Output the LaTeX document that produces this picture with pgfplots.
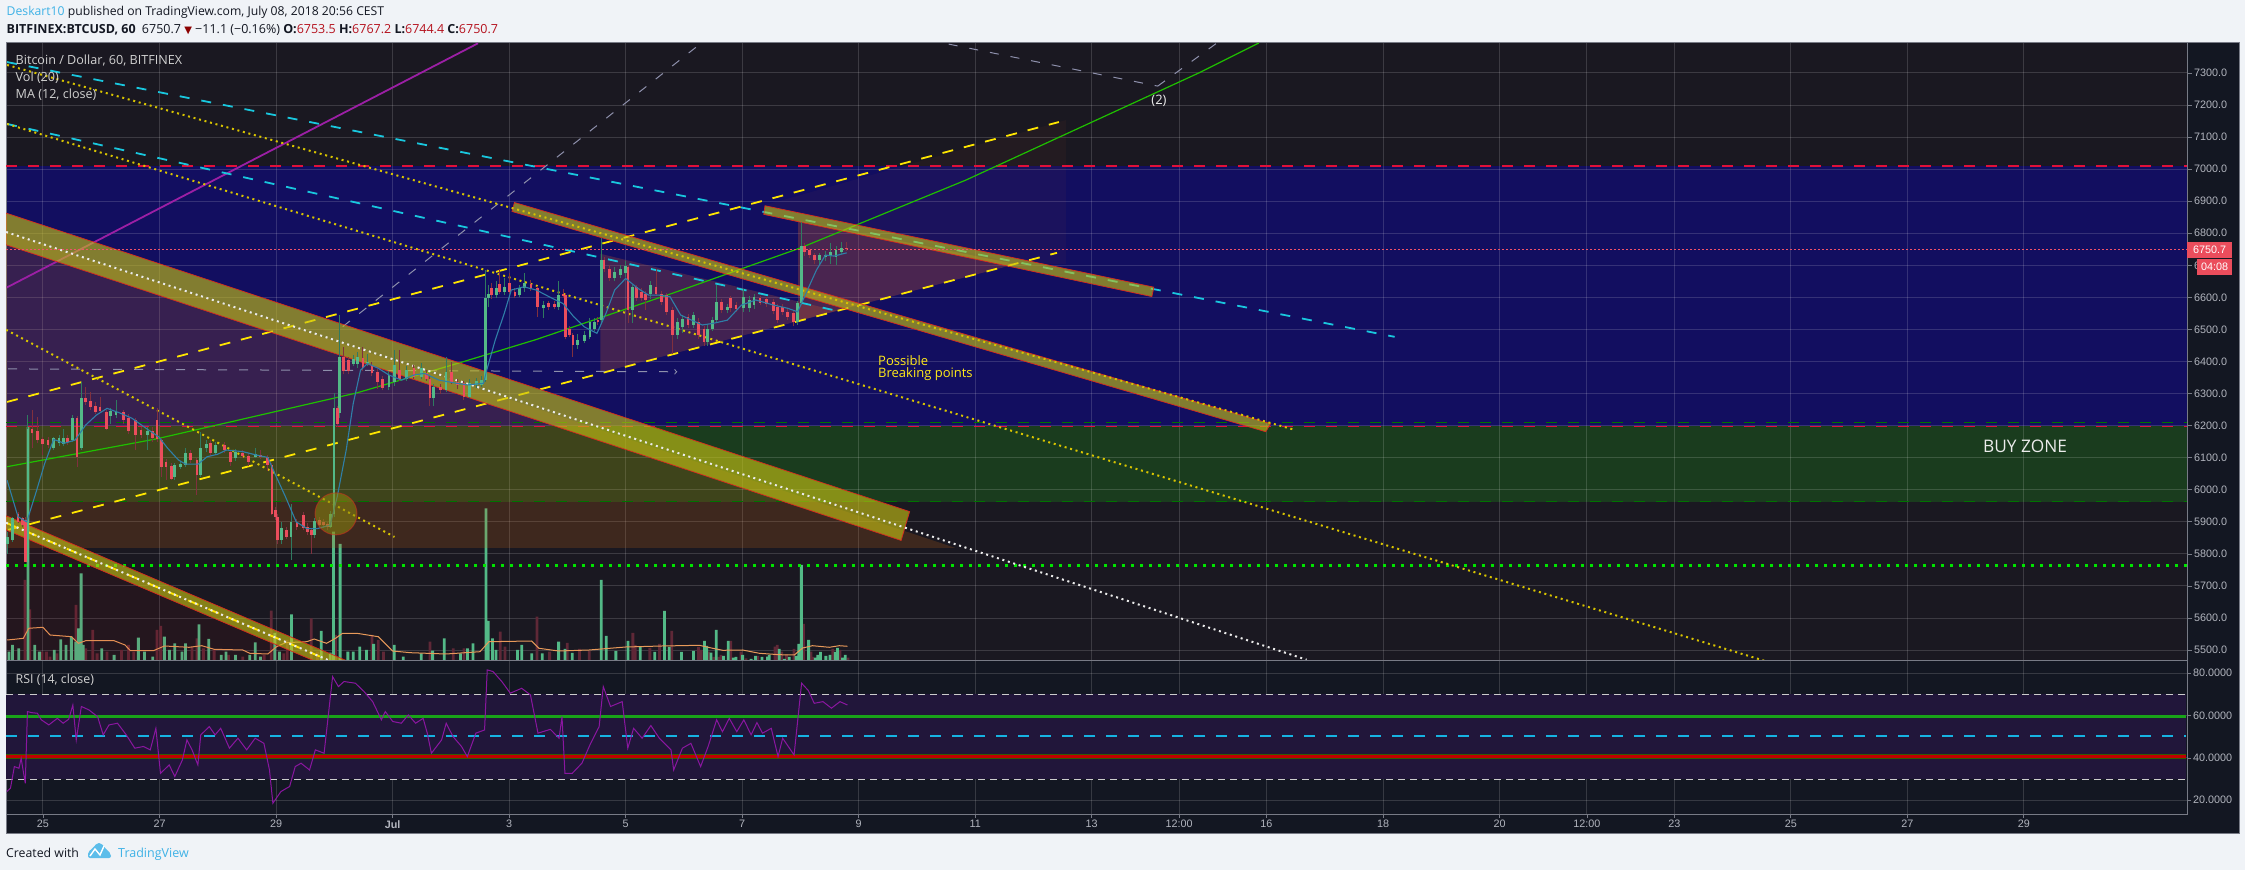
\documentclass[border=0pt]{standalone}
\usepackage{fontspec}
\setmainfont{Open Sans}
\newfontfamily\lib{Liberation Sans}
\newfontfamily\dv{DejaVu Sans}
\usepackage{pgfplots}
\usepackage{pgfplotstable}
\pgfplotsset{compat=1.18}
\definecolor{pagebg}{HTML}{F0F3F7}
\definecolor{panebg}{HTML}{131722}
\definecolor{mainbg}{HTML}{1A1821}
\definecolor{frame}{HTML}{787B86}
\definecolor{ticktxt}{HTML}{B2B5BE}
\definecolor{zblue}{HTML}{120E60}
\definecolor{zgreen}{HTML}{1A3C1E}
\definecolor{over}{HTML}{CE6812}
\definecolor{cg}{HTML}{53B987}
\definecolor{cr}{HTML}{EB4D5C}
\definecolor{wg}{HTML}{2F7A60}
\definecolor{wr}{HTML}{80303E}
\definecolor{volr}{HTML}{5F2837}
\definecolor{band}{HTML}{C8C214}
\definecolor{bandedge}{HTML}{D8291F}
\definecolor{cyanl}{HTML}{19C7DE}
\definecolor{ydash}{HTML}{FFE600}
\definecolor{ydot}{HTML}{D8C400}
\definecolor{purp}{HTML}{9C1FA5}
\definecolor{glin}{HTML}{1FC000}
\definecolor{greyd}{HTML}{8E90AC}
\definecolor{redd}{HTML}{E0103A}
\definecolor{lastp}{HTML}{F0536A}
\definecolor{mal}{HTML}{2F7FA8}
\definecolor{vma}{HTML}{E89A5A}
\definecolor{rsil}{HTML}{8A16A0}
\definecolor{rsib}{HTML}{21163A}
\definecolor{blueh}{HTML}{3FB2E6}
\definecolor{redv}{HTML}{B5121E}

\pgfplotstableread{
x o c h l
-14.5 5832 5853 5869 5801
-12.4 5843 5911 5916 5838
-6.2 5775 6191 6233 5775
4.4 6129 6160 6166 6124
6.6 6145 6160 6170 6137
8.5 6143 6163 6191 6135
12 6155 6223 6233 6150
15.8 6129 6285 6337 6124
27.9 6230 6247 6255 6205
30.1 6233 6243 6280 6225
42.9 6171 6184 6195 6124
54.3 6041 6077 6085 6030
56.5 6072 6080 6090 6065
58.7 6077 6115 6129 6070
64.9 6046 6129 6181 6040
67.3 6129 6143 6155 6118
71.2 6115 6139 6148 6108
79.3 6098 6119 6128 6090
87.4 6103 6113 6129 6098
98.4 5843 5882 5900 5830
102.2 5853 5900 5957 5781
112 5859 5903 5912 5850
118.4 5885 5924 5935 5880
119.9 5924 6254 6301 5915
122.2 6238 6415 6545 6225
127.8 6392 6407 6420 6385
129.7 6392 6413 6430 6380
133.7 6394 6399 6425 6385
142.5 6321 6358 6370 6310
144.7 6337 6389 6435 6325
149.9 6347 6373 6385 6340
155.8 6353 6379 6395 6345
161 6285 6321 6330 6260
166 6311 6368 6415 6305
175.6 6290 6332 6345 6285
178.5 6327 6340 6350 6318
180.8 6327 6342 6355 6320
182.3 6342 6597 6685 6335
183.4 6597 6612 6640 6570
186.7 6607 6628 6650 6598
190 6618 6631 6660 6608
196.3 6607 6628 6640 6600
198.4 6628 6644 6675 6618
206.1 6566 6576 6590 6535
212.2 6571 6607 6650 6560
220.1 6451 6467 6485 6440
223 6465 6482 6495 6458
225.3 6477 6524 6535 6470
227.2 6503 6524 6535 6495
230 6529 6718 6784 6520
235.5 6662 6680 6695 6650
237.8 6670 6690 6700 6660
240 6675 6698 6715 6665
242.9 6560 6633 6640 6520
250.2 6612 6638 6650 6595
261.3 6482 6524 6535 6470
263.5 6508 6534 6545 6490
267.9 6514 6545 6555 6505
273.8 6462 6503 6515 6450
275.7 6503 6529 6540 6495
277.4 6529 6586 6640 6520
281.9 6560 6569 6580 6550
288.5 6566 6602 6625 6555
291 6566 6592 6605 6555
292.9 6576 6600 6612 6565
310.9 6524 6581 6590 6515
312.4 6581 6760 6836 6575
320 6718 6731 6740 6700
322.3 6727 6731 6745 6715
324.5 6729 6741 6770 6705
326.7 6727 6748 6760 6700
328.9 6741 6753 6772 6735
}\upT

\pgfplotstableread{
x o c h l
-10.3 5926 5900 5931 5895
-8.6 5911 5890 5916 5885
-7.1 5905 5775 5915 5775
-4.5 6191 6176 6249 6129
-2.3 6184 6155 6228 6145
-0.1 6157 6142 6165 6108
2.1 6155 6139 6165 6130
10.2 6160 6150 6170 6140
14 6223 6103 6230 6072
17.6 6285 6273 6321 6265
19.5 6277 6259 6306 6250
21.5 6262 6243 6275 6235
23.5 6259 6247 6290 6240
26 6243 6191 6250 6185
33 6243 6217 6250 6205
35.2 6223 6184 6235 6175
38.2 6217 6171 6225 6124
40.4 6186 6171 6195 6160
45.2 6184 6160 6195 6150
47 6217 6157 6254 6150
48.7 6155 6072 6160 6040
50.7 6087 6072 6095 6030
52.9 6074 6035 6085 6030
60.9 6115 6093 6125 6085
63.4 6093 6046 6100 5983
69 6145 6115 6155 6105
74.9 6139 6124 6150 6115
77.1 6119 6087 6125 6075
82.3 6115 6106 6125 6098
84.5 6106 6087 6115 6075
89.6 6108 6101 6125 6095
92.6 6103 6077 6110 6060
94.3 6077 5926 6085 5920
95.8 5937 5916 5945 5905
96.7 5916 5843 5925 5830
100.2 5874 5853 5885 5845
104.6 5900 5885 5910 5875
107.3 5921 5882 5930 5875
109 5885 5869 5895 5860
110.5 5874 5859 5880 5801
113.9 5905 5890 5915 5880
115.6 5900 5890 5910 5882
117.1 5893 5885 5900 5875
121.2 6254 6205 6262 6195
123.7 6415 6370 6446 6360
125.9 6405 6370 6415 6360
131.8 6410 6381 6446 6372
135.5 6389 6363 6400 6355
137.8 6368 6337 6378 6315
139.9 6347 6318 6355 6310
147 6373 6347 6435 6340
152.8 6379 6353 6390 6345
158 6363 6347 6375 6340
159.4 6347 6285 6355 6260
163.8 6321 6311 6330 6300
168.3 6368 6337 6400 6330
170.8 6337 6327 6345 6315
173.4 6332 6290 6340 6280
184.8 6628 6607 6644 6595
188.2 6642 6618 6690 6610
192.2 6644 6618 6675 6610
194.4 6618 6605 6630 6598
201 6642 6628 6655 6620
203.6 6628 6571 6635 6540
208.4 6581 6569 6590 6560
210.6 6579 6571 6590 6565
214.2 6612 6605 6625 6598
215.4 6607 6477 6615 6470
216.9 6503 6482 6510 6475
218.3 6482 6451 6490 6415
228.6 6529 6524 6540 6515
231.1 6718 6690 6725 6680
233.3 6690 6659 6700 6650
241 6694 6560 6700 6520
244.4 6633 6597 6640 6590
246.6 6618 6597 6630 6590
248.3 6612 6592 6620 6560
252.5 6633 6612 6690 6605
254.7 6612 6586 6620 6575
256.9 6607 6555 6615 6545
259.4 6560 6482 6570 6425
265.7 6540 6514 6548 6505
270.1 6524 6482 6535 6470
272.3 6503 6462 6510 6450
279.6 6586 6560 6595 6550
283.3 6597 6566 6605 6555
285.5 6576 6564 6585 6555
295.4 6597 6584 6605 6575
298 6594 6579 6602 6570
301 6586 6558 6595 6548
302.7 6571 6529 6580 6520
304.6 6571 6555 6580 6545
306.8 6555 6540 6565 6530
309.3 6550 6522 6560 6510
313.6 6760 6742 6770 6730
315.7 6748 6732 6755 6722
317.9 6732 6716 6740 6705
331.1 6753 6750.7 6772 6744
}\downT

\pgfplotstableread{
x v
-14 9.3
-12.6 16
-10 12.7
-6.2 234
-3.4 16
-1.5 9.3
4.6 11
7.3 21.7
9.5 16
11.7 24.3
13.5 19.3
14.6 32.7
15.7 87.7
16.6 16
24.2 12.7
29.3 6
39.3 23.3
41.8 9.3
45.2 4.3
50 24.3
52.1 11
54.3 17.7
57.3 9.3
58.7 17.7
64.3 36.7
68.3 22
73.4 6
75.4 9.3
79.3 6
85.2 6
87.4 18.7
89.6 4.3
95.5 28
97.4 9.3
102.4 46.7
114.6 30
118.3 8.3
119.7 129.3
122.4 117
125.6 9.3
127.8 9.3
130.5 14.3
133.3 11
136.2 17
144.7 16
148.4 4.3
155.8 7.7
160.5 10.3
165.3 22.7
172 7.7
174.9 12.7
177.1 17.7
182.5 152.7
183.4 40
185.2 22.7
186.6 11
195.5 11
197.2 16
201.3 7.7
205.7 7.7
212.4 19.3
215 12
218 8
230 81
232 25
236 10
241 20
246 14
252 9
256 50
258 14
263 9
268 10
272.5 20
273.4 15
275.2 8.3
277.3 31
280.3 5
282.3 20
284.4 3.3
285.5 4
288.2 6
291.7 2
293.5 5
296.2 4
298.5 4.3
299.2 6
303.3 12
305.4 2
307.4 4
310.2 5
311.3 17
312.4 96
315.4 21
318.1 3.3
319.2 6
320.3 9
322.5 5
324.2 6
326.4 9
327.3 13
329.4 3.3
330.5 6
}\volG

\pgfplotstableread{
x v
-7.4 81
-5.5 51.7
-0.4 9.3
1.4 9.3
2.9 4.3
5.8 7.7
13.6 56
17.6 12.7
20.5 31
22.3 7.7
26.4 9.3
32.3 11
35.2 16
37.4 9.3
47 31
48.5 35
61.4 14.3
63.4 22.7
66.1 12.7
70.5 11
76.4 6
82.3 4.3
91.1 6
94 50.3
99.2 7.7
100.6 21
110.5 42.7
113.1 9.3
120.5 26
135.5 26
138.1 21
140.3 9.3
159.4 19.3
169 12.7
173.4 12.7
188.4 29.3
190.3 14.3
203.5 44.3
208.7 9.3
216 18
221 12
225 10
243 28
244 16
250 13
254 17
259 30
270 14
271.1 11
274.2 9.3
276.3 4
278.4 4
279.3 6
283.3 20
287.5 9.3
289.6 2.7
294.4 5
301.5 14.3
302.5 16
304.3 9.3
306.3 6.7
309.4 12
313.3 37
316.4 9.3
317 4
325.3 12
328.3 11
331.6 3.3
}\volR

\pgfplotsset{
  pane/.style={scale only axis, width=2181pt, xmin=-15.24, xmax=883.2},
  mainp/.style={pane, height=618pt, at={(6pt,209pt)}, anchor=south west, ymin=5466, ymax=7393.5},
  xt/.style={xtick={0,48,96,144,192,240,288,336,384,432,468,504,552,600,636,672,720,768,816}},
  bandp/.style={fill=band, fill opacity=.62, draw=bandedge, line width=.7pt},
  cyanp/.style={cyanl, line width=1.8pt, dash pattern=on 10pt off 12pt},
  ydashp/.style={ydash, line width=1.8pt, dash pattern=on 11pt off 11pt},
  ydotp/.style={ydot, line width=2pt, dash pattern=on 2pt off 3.7pt},
  wdotp/.style={white!92!black, line width=2pt, dash pattern=on 2pt off 3.7pt},
  greyp/.style={greyd, line width=1pt, dash pattern=on 9pt off 12pt},
}

\begin{document}
\begin{tikzpicture}[x=1pt,y=1pt]
\path[use as bounding box, fill=pagebg] (0,0) rectangle (2245,870);
\fill[panebg] (6,37) rectangle (2239,827);
\draw[frame, line width=1pt] (6,37) rectangle (2239,827);

% grid and zones
\begin{axis}[mainp, xt, axis on top, axis background/.style={fill=mainbg},
  axis line style={frame, line width=1pt},
  xticklabels={}, xtick style={draw=none}, ytick={5500,5600,...,7300},
  ytick pos=right, yticklabel pos=right, tick align=outside,
  major tick length=5pt, ytick style={frame, line width=.8pt},
  grid=major, major grid style={white, opacity=.15, line width=1pt},
  /pgf/number format/.cd, fixed, fixed zerofill, precision=1, 1000 sep={}, assume math mode=true,
  /tikz/.cd, yticklabel style={font=\lib\fontsize{10.8}{12}\selectfont, text=ticktxt, inner sep=0pt, xshift=2pt}]
\addplot[fill=zblue, draw=none] coordinates {(-15.24,6198)(883.2,6198)(883.2,7010)(-15.24,7010)} -- cycle;
\addplot[fill=zgreen, draw=none] coordinates {(-15.24,5963)(883.2,5963)(883.2,6198)(-15.24,6198)} -- cycle;
\end{axis}

% volume
\begin{axis}[mainp, hide axis, ymin=0, ymax=618]
\addplot[ybar, bar width=2.8pt, bar shift=0pt, fill=volr, draw=none] table[x=x,y=v] {\volR};
\addplot[ybar, bar width=2.8pt, bar shift=0pt, fill=cg, draw=none] table[x=x,y=v] {\volG};
\addplot[vma, line width=1pt] coordinates {(-14.8,21)(-11.8,21.7)(-8.1,22.7)(-5.9,32.7)(0,33.7)(2.9,26)(11.7,24.3)(14.6,17.7)(17.6,20.3)(29.3,20.3)(33.8,16)(36,10.3)(45.5,10.3)(50,15)(60.2,13.7)(65.4,15.3)(70.5,11.7)(82.3,11)(85.2,7.7)(92.6,7)(96.2,14.3)(99.9,18.3)(108.7,19.3)(111.7,22)(116.8,17.7)(120.5,22.7)(123.4,27.7)(129.3,27.7)(138.1,24.3)(144,10)(151.4,8.3)(166,7)(180,9.3)(183.7,19.3)(201.3,20)(204.3,12.7)(212.4,10)(225,11)(240,14)(255,15)(270.4,15.7)(275.9,12.7)(280,10.7)(288.2,11)(295.1,7.7)(303.3,6.3)(309.5,6)(312.9,13)(317,15.3)(323.9,13.7)(328,15.3)(331.4,14.7)};
\end{axis}

% drawings and candles
\begin{axis}[mainp, hide axis]
% translucent shapes
\addplot[fill=over, fill opacity=.2, draw=none] coordinates {(-15.24,6804)(375.7,5819)(-15.24,5819)} -- cycle;
\addplot[fill=red!70!black, fill opacity=.07, draw=none] coordinates {(-15.24,5881)(124.3,5467)(-15.24,5467)} -- cycle;
\addplot[fill=over!90!magenta, fill opacity=.25, draw=none] coordinates {(229.6,6736)(327.1,6558)(229.6,6365)} -- cycle;
\addplot[fill=over!90!magenta, fill opacity=.29, draw=none] coordinates {(311.1,6839)(400.8,6704)(311.1,6527)} -- cycle;
\addplot[fill=over!90!magenta, fill opacity=.05, draw=none] coordinates {(297.5,6888)(421.4,7153)(421.4,6704)(400.8,6707)} -- cycle;
% levels
\addplot[redd, line width=1.2pt, dash pattern=on 11pt off 11pt] coordinates {(-15.24,7010)(883.2,7010)};
\addplot[green!45!black, line width=1pt, dash pattern=on 11pt off 11pt] coordinates {(-15.24,6209)(883.2,6209)};
\addplot[redd, line width=1.2pt, dash pattern=on 11pt off 11pt] coordinates {(-15.24,6198)(883.2,6198)};
\addplot[green!45!black, line width=1pt, dash pattern=on 11pt off 11pt] coordinates {(-15.24,5963)(883.2,5963)};
\addplot[green!90!black, line width=3pt, dash pattern=on 3pt off 6pt] coordinates {(-15.24,5763)(883.2,5763)};
% trend lines
\addplot[purp, line width=1.8pt] coordinates {(-14.9,6631)(179.2,7392.6)};
\addplot[cyanp] coordinates {(-14.8,7334)(556.8,6477)};
\addplot[cyanp] coordinates {(-14.8,7141)(327.1,6558)};
\addplot[ydashp] coordinates {(-14.8,6274)(418.5,7147)};
\addplot[ydashp] coordinates {(-14.4,5875)(417.7,6739)};
\addplot[glin, line width=1.2pt] coordinates {(-14.8,6072)(46.9,6159)(129.2,6302)(171.6,6396)(202.9,6468)(259.7,6614)(311.9,6754)(380.2,6966)(476.1,7300)(500.8,7393.5)};
\addplot[greyp] coordinates {(123.5,6509)(271.2,7393.5)};
\addplot[greyp] coordinates {(373.1,7390)(459.2,7259)};
\addplot[greyp] coordinates {(459.2,7259)(483.5,7393)};
\addplot[greyp, ->] coordinates {(-14.4,6377)(261.3,6368)};
% thick bands
\addplot[bandp] coordinates {(-15.2,6863)(357,5932)(353.5,5842)(-15.2,6764)} -- cycle;
\addplot[bandp] coordinates {(194.2,6896)(505.7,6206)(503.7,6181)(193.2,6868)} -- cycle;
\addplot[bandp] coordinates {(297.4,6886)(457.6,6632)(456.8,6602.5)(296.9,6859)} -- cycle;
\addplot[bandp] coordinates {(-15.2,5919)(126.3,5463)(112.8,5463)(-15.2,5875)} -- cycle;
\addplot[ydotp] coordinates {(-14.8,7325)(515.6,6187)};
\addplot[ydotp] coordinates {(-14.8,7141)(709,5467)};
\addplot[ydotp] coordinates {(-15.2,6499)(144.8,5853)};
\addplot[wdotp] coordinates {(-15.2,6804)(520.5,5470)};
\addplot[ydashp] coordinates {(-15.2,5897)(118.1,5467)};
\addplot[wdotp] coordinates {(-15.2,5897)(118.1,5467)};
% circle
\addplot[only marks, mark=*, mark size=21pt, mark options={fill=band!70!black, fill opacity=.55, draw=bandedge, draw opacity=.5, line width=1pt}] coordinates {(120.7,5925)};
% last price
\addplot[lastp, line width=.9pt, dash pattern=on 2pt off 2pt] coordinates {(-15.24,6750.7)(883.2,6750.7)};
% wicks
\addplot[draw=wg, line width=.9pt, quiver={u=0, v=\thisrow{h}-\thisrow{l}}] table[x=x, y=l] {\upT};
\addplot[draw=wr, line width=.9pt, quiver={u=0, v=\thisrow{h}-\thisrow{l}}] table[x=x, y=l] {\downT};
% bodies
\addplot[draw=cg, line width=2.8pt, quiver={u=0, v=\thisrow{c}-\thisrow{o}}] table[x=x, y=o] {\upT};
\addplot[draw=cr, line width=2.8pt, quiver={u=0, v=\thisrow{o}-\thisrow{c}}] table[x=x, y=c] {\downT};
% moving average
\addplot[mal, line width=1.1pt] coordinates {(-14.8,6030)(-10.3,5916)(-6.7,5900)(-3,5989)(0.7,6082)(4.4,6157)(8.8,6145)(13.2,6155)(17.6,6202)(22,6233)(26.4,6254)(31.5,6240)(36.7,6223)(42.6,6191)(47.7,6165)(51.4,6129)(55.8,6093)(58.7,6080)(63.9,6080)(67.6,6103)(72,6111)(75.6,6124)(82.3,6119)(88.1,6108)(92.6,6101)(95.5,6051)(99.9,5978)(104.3,5900)(108.7,5879)(113.1,5879)(118.3,5890)(121.2,5978)(124.9,6124)(127.8,6269)(130.8,6373)(133.7,6394)(138.1,6379)(142.5,6358)(147.7,6342)(152.8,6358)(157.2,6363)(163.1,6342)(169,6334)(174.9,6327)(181.5,6332)(182.6,6368)(186.3,6467)(190,6550)(192.9,6623)(198.1,6633)(203.2,6623)(209.8,6597)(214.2,6581)(218.6,6540)(223,6508)(228.2,6488)(231.9,6550)(235.5,6623)(240,6659)(245.1,6628)(249.5,6607)(253.9,6607)(258.3,6602)(262.7,6545)(267.2,6529)(271.6,6514)(276,6519)(281.9,6529)(287.7,6576)(293.6,6592)(301,6576)(306.8,6566)(310.9,6555)(314.9,6623)(318.6,6685)(322.3,6732)(325.9,6729)(331.1,6739)};
\end{axis}

% RSI
\begin{axis}[pane, xt, height=153pt, at={(6pt,56pt)}, anchor=south west, ymin=13.5, ymax=85.8,
  axis line style={frame, line width=1pt},
  xticklabels={25,27,29,\textbf{Jul},3,5,7,9,11,13,12:00,16,18,20,12:00,23,25,27,29},
  ytick={20,40,60,80}, ytick pos=right, yticklabel pos=right, xtick pos=bottom, tick align=outside,
  major tick length=4pt, tick style={frame, line width=.8pt},
  grid=major, major grid style={white, opacity=.15, line width=1pt},
  /pgf/number format/.cd, fixed, fixed zerofill, precision=4, 1000 sep={}, assume math mode=true,
  /tikz/.cd, yticklabel style={font=\lib\fontsize{10.8}{12}\selectfont, text=ticktxt, inner sep=0pt, xshift=2pt},
  xticklabel style={font=\lib\fontsize{10.8}{12}\selectfont, text=ticktxt, inner sep=0pt, yshift=-2pt}]
\addplot[fill=rsib, draw=none] coordinates {(-15.24,30)(882.8,30)(882.8,70)(-15.24,70)} -- cycle;
\addplot[white!80!black, line width=.9pt, dash pattern=on 7pt off 5pt] coordinates {(-15.24,70)(882.8,70)};
\addplot[white!80!black, line width=.9pt, dash pattern=on 7pt off 5pt] coordinates {(-15.24,30)(882.8,30)};
\addplot[green!60!black!90!white, line width=3.6pt] coordinates {(-15.24,59.5)(882.8,59.5)};
\addplot[cyanl!90!blue, line width=1.8pt, dash pattern=on 11pt off 11pt] coordinates {(-15.24,50.4)(882.8,50.4)};
\addplot[green!45!black!80!red, line width=5.5pt] coordinates {(-15.24,40.6)(882.8,40.6)};
\addplot[red!75!black, line width=3.5pt] coordinates {(-15.24,40.6)(882.8,40.6)};
\addplot[rsil, line width=1pt] coordinates {(-14.9,24.1)(-13.4,25.7)(-11.8,35.9)(-9.9,35.1)(-9,39.8)(-7.3,28)(-6.4,61.9)(-4.7,61.4)(-2.3,61.1)(-0.7,58)(2.4,55.6)(5.9,58.7)(8.3,56.4)(10.6,58.3)(12.3,65)(13.7,48.5)(15.8,64.3)(18.9,62.7)(22.5,59.5)(24.8,50.9)(27.2,55.6)(30.7,56.4)(34.3,50.9)(37.8,44.6)(41.4,45.4)(44.2,43.8)(46.5,54)(48.4,32.7)(52,36.7)(54.3,31.2)(57.4,39)(59.3,48.5)(61.4,43.8)(63.8,36.7)(65,50.9)(68.5,54.8)(70.9,50.9)(73.2,54)(76.8,44.6)(80.3,49.3)(83.9,43.8)(87.4,49.3)(91,46.9)(93.3,34.3)(94.7,18.6)(98,24.1)(101.6,26.5)(103.9,35.9)(106.3,37.5)(109.8,34.3)(112.2,43.8)(115.8,42.2)(119.3,78.4)(121.7,73.7)(124,76.1)(128.7,75.3)(132.3,71.3)(135.8,66.6)(139.4,58)(141,61.9)(144.1,57.2)(147.6,56.4)(150.5,60.3)(153.5,56.4)(156.6,58.7)(158.3,51.7)(160,42.2)(164.2,48.5)(166.1,56.4)(168.9,50.1)(172.4,45.4)(174.8,40.6)(178.3,51.7)(181.9,53.2)(183,81.6)(185.4,80.8)(189,76.1)(192.5,70.6)(197.2,72.9)(200.8,69.8)(203.9,51.7)(209,53.5)(212.6,49.3)(213.8,59.5)(215,32.7)(218,32.7)(222,37.5)(225.6,46.9)(229.1,54.8)(230.8,73.7)(233.8,64.3)(238.6,66.6)(240.9,44.6)(243.3,54)(246.8,49.3)(250.4,55.3)(253.9,49.3)(258.7,43.8)(259.8,34.3)(263.4,44.6)(266.9,46.9)(270.9,35.9)(274,45.4)(277.5,58)(279.9,52.4)(282.7,58.7)(285.8,52.4)(288.7,58)(291.7,50.9)(294.1,56.7)(296.4,51.7)(300,54)(302.8,40.6)(304.7,49.3)(309.4,41.4)(312.5,75.3)(315.3,71.8)(317.7,65.8)(321.3,66.6)(324.8,63.5)(328.3,66.6)(331.4,65)};
\end{axis}

% header
\node[anchor=base west, inner sep=0pt, text=panebg, font=\fontsize{12.2}{14}\selectfont] at (6.5,854) {\textcolor{blueh}{Deskart10} published on TradingView.com, July 08, 2018 20:56 CEST};
\node[anchor=base west, inner sep=0pt, text=panebg, font=\fontsize{12.5}{14}\selectfont] at (6.5,836) {\textbf{BITFINEX:BTCUSD, 60}\hspace{3pt} 6750.7 \textcolor{red!55!black}{\dv\fontsize{10}{10}\selectfont ▼} −11.1 (−0.16\%) \textbf{O:}\textcolor{redv}{6753.5} \textbf{H:}\textcolor{redv}{6767.2} \textbf{L:}\textcolor{redv}{6744.4} \textbf{C:}\textcolor{redv}{6750.7}};
% pane labels
\node[anchor=base west, inner sep=0pt, text=white!82!black, font=\fontsize{12.6}{14}\selectfont] at (15.5,805) {Bitcoin / Dollar, 60, BITFINEX};
\node[anchor=base west, inner sep=0pt, text=white!82!black, font=\fontsize{12.6}{14}\selectfont] at (15.5,788) {Vol (20)};
\node[anchor=base west, inner sep=0pt, text=white!82!black, font=\fontsize{12.6}{14}\selectfont] at (15.5,771) {MA (12, close)};
\node[anchor=base west, inner sep=0pt, text=white!82!black, font=\fontsize{12.4}{14}\selectfont] at (15.5,186.5) {RSI (14, close)};
% annotations
\node[anchor=base west, inner sep=0pt, text=ydash!90!white, font=\fontsize{13}{15}\selectfont] at (878,504) {Possible};
\node[anchor=base west, inner sep=0pt, text=ydash!90!white, font=\fontsize{13}{15}\selectfont] at (878,492) {Breaking points};
\node[inner sep=0pt, text=white!92!black, font=\fontsize{17.3}{19}\selectfont] at (2025,424) {BUY ZONE};
\node[inner sep=0pt, text=white!92!black, font=\fontsize{13}{15}\selectfont] at (1159,769) {(2)};
% price labels
\fill[cr] (2187,612) rectangle (2232,628);
\node[inner sep=0pt, text=white, font=\lib\fontsize{10.8}{12}\selectfont] at (2209.5,620) {6750.7};
\fill[cr] (2197,595) rectangle (2232,611);
\node[inner sep=0pt, text=white, font=\lib\fontsize{10.8}{12}\selectfont] at (2214.5,603) {04:08};
% footer
\node[anchor=base west, inner sep=0pt, text=panebg, font=\fontsize{12.3}{14}\selectfont] at (6,13) {Created with};
\fill[blueh!85!white, rounded corners=2pt] (88,12) -- (88,18) -- (93,22) -- (97,27) -- (101,27) -- (106,21) -- (111,16) -- (111,12) -- cycle;
\draw[white, line width=1.4pt] (90,14) -- (95,21) -- (100,15) -- (104,24);
\node[anchor=base west, inner sep=0pt, text=blueh, font=\fontsize{12.5}{14}\selectfont] at (118,13) {TradingView};
\end{tikzpicture}
\end{document}
